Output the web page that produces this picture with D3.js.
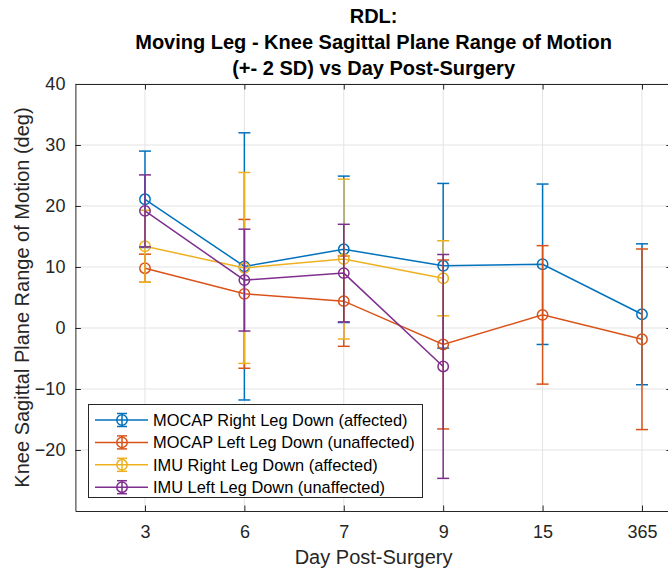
<!DOCTYPE html>
<html>
<head>
<meta charset="utf-8">
<script src="https://cdn.jsdelivr.net/npm/d3@7"></script>
<style>
  html, body { margin: 0; padding: 0; background: #ffffff; }
  svg { display: block; font-family: "Liberation Sans", Arial, Helvetica, sans-serif; }
</style>
</head>
<body>
<svg id="chart" width="668" height="574"></svg>
<script>
// Day post-surgery categories (x axis)
const days = ["3", "6", "7", "9", "15", "365"];

// Knee sagittal range of motion (deg): means and 2 SD half-widths
const mocapRightMean = [21.1, 10.1, 12.9, 10.2, 10.45, 2.25];
const mocapRightSD2  = [7.9, 21.9, 12.0, 13.5, 13.15, 11.55];
const mocapLeftMean  = [9.8, 5.6, 4.4, -2.7, 2.15, -1.85];
const mocapLeftSD2   = [2.3, 12.2, 7.4, 13.85, 11.35, 14.8];
const imuRightMean   = [13.4, 9.85, 11.3, 8.15];
const imuRightSD2    = [5.9, 15.65, 13.1, 6.15];
const imuLeftMean    = [19.2, 7.85, 9.0, -6.3];
const imuLeftSD2     = [5.9, 8.35, 8.0, 18.35];

const yTicks = [-20, -10, 0, 10, 20, 30, 40];

const seriesNames = [
  "MOCAP Right Leg Down (affected)",
  "MOCAP Left Leg Down (unaffected)",
  "IMU Right Leg Down (affected)",
  "IMU Left Leg Down (unaffected)"
];
const seriesColors = ["#0072BD", "#D95319", "#EDB120", "#7E2F8E"];

const series = [
  { mean: mocapRightMean, sd: mocapRightSD2 },
  { mean: mocapLeftMean,  sd: mocapLeftSD2 },
  { mean: imuRightMean,   sd: imuRightSD2 },
  { mean: imuLeftMean,    sd: imuLeftSD2 }
].map((s, i) => ({
  name: seriesNames[i],
  color: seriesColors[i],
  points: s.mean.map((m, j) => ({ idx: j + 1, mean: m, sd: s.sd[j] }))
}));

const svg = d3.select("#chart");
const axisColor = "#262626";
const gridColor = "#e3e3e3";

// Plot box
const plotLeft = 75.4, plotRight = 671.8, plotTop = 84, plotBottom = 511;
const x = d3.scaleLinear().domain([0.3, 6.3]).range([plotLeft, plotRight]);
const y = d3.scaleLinear().domain([-30, 40]).range([plotBottom, plotTop]);

// Grid
const grid = svg.append("g");
grid.selectAll("line.gx").data(days).join("line").attr("class", "gx")
  .attr("x1", (d, i) => x(i + 1)).attr("x2", (d, i) => x(i + 1))
  .attr("y1", plotTop).attr("y2", plotBottom)
  .attr("stroke", gridColor).attr("stroke-width", 1);
grid.selectAll("line.gy").data(yTicks).join("line").attr("class", "gy")
  .attr("x1", plotLeft).attr("x2", plotRight)
  .attr("y1", d => y(d)).attr("y2", d => y(d))
  .attr("stroke", gridColor).attr("stroke-width", 1);

// Axes (ticks point inward, box on all sides)
const tickLen = 5.5;
const xAxisB = d3.axisBottom(x).tickValues(d3.range(1, 7)).tickFormat(d => days[d - 1])
  .tickSizeInner(-tickLen).tickSizeOuter(0).tickPadding(14);
const xAxisT = d3.axisTop(x).tickValues(d3.range(1, 7)).tickFormat("")
  .tickSizeInner(-tickLen).tickSizeOuter(0);
const yAxisL = d3.axisLeft(y).tickValues(yTicks).tickFormat(d3.format("d"))
  .tickSizeInner(-tickLen).tickSizeOuter(0).tickPadding(10);
const yAxisR = d3.axisRight(y).tickValues(yTicks).tickFormat("")
  .tickSizeInner(-tickLen).tickSizeOuter(0);

function styleAxis(g) {
  g.select(".domain").attr("stroke", axisColor).attr("stroke-width", 1);
  g.selectAll(".tick line").attr("stroke", axisColor).attr("stroke-width", 1);
  g.selectAll(".tick text").attr("fill", axisColor)
    .style("font-size", "18px").style("font-family", "'Liberation Sans', Arial, sans-serif");
}
svg.append("g").attr("transform", `translate(0,${plotBottom})`).call(xAxisB).call(styleAxis);
svg.append("g").attr("transform", `translate(0,${plotTop})`).call(xAxisT).call(styleAxis);
svg.append("g").attr("transform", `translate(${plotLeft},0)`).call(yAxisL).call(styleAxis);
svg.append("g").attr("transform", `translate(${plotRight},0)`).call(yAxisR).call(styleAxis);

// Error bar series
const capHalf = 6, markerR = 5.2, lw = 1.5;
series.forEach(s => {
  const g = svg.append("g");
  const line = d3.line().x(d => x(d.idx)).y(d => y(d.mean));
  g.append("path").datum(s.points).attr("d", line)
    .attr("fill", "none").attr("stroke", s.color).attr("stroke-width", lw);
  const eb = g.selectAll("g.eb").data(s.points).join("g").attr("class", "eb");
  eb.append("line")
    .attr("x1", d => x(d.idx)).attr("x2", d => x(d.idx))
    .attr("y1", d => y(d.mean + d.sd)).attr("y2", d => y(d.mean - d.sd))
    .attr("stroke", s.color).attr("stroke-width", lw);
  [1, -1].forEach(sign => {
    eb.append("line")
      .attr("x1", d => x(d.idx) - capHalf).attr("x2", d => x(d.idx) + capHalf)
      .attr("y1", d => y(d.mean + sign * d.sd)).attr("y2", d => y(d.mean + sign * d.sd))
      .attr("stroke", s.color).attr("stroke-width", lw);
  });
  eb.append("circle")
    .attr("cx", d => x(d.idx)).attr("cy", d => y(d.mean)).attr("r", markerR)
    .attr("fill", "none").attr("stroke", s.color).attr("stroke-width", lw);
});

// Legend
const lg = svg.append("g");
lg.append("rect").attr("x", 88.5).attr("y", 404.5).attr("width", 334).attr("height", 93)
  .attr("fill", "#ffffff").attr("stroke", axisColor).attr("stroke-width", 1);
series.forEach((s, i) => {
  const cy = 420 + i * 22.4;
  const row = lg.append("g");
  row.append("line").attr("x1", 95).attr("x2", 148).attr("y1", cy).attr("y2", cy)
    .attr("stroke", s.color).attr("stroke-width", lw);
  row.append("line").attr("x1", 122).attr("x2", 122).attr("y1", cy - 6.5).attr("y2", cy + 6.5)
    .attr("stroke", s.color).attr("stroke-width", lw);
  [-6.5, 6.5].forEach(o => row.append("line")
    .attr("x1", 117).attr("x2", 127).attr("y1", cy + o).attr("y2", cy + o)
    .attr("stroke", s.color).attr("stroke-width", lw));
  row.append("circle").attr("cx", 122).attr("cy", cy).attr("r", markerR)
    .attr("fill", "none").attr("stroke", s.color).attr("stroke-width", lw);
  row.append("text").attr("x", 153).attr("y", cy).attr("dy", "0.35em")
    .attr("fill", "#000000").style("font-size", "16.4px").text(s.name);
});

// Axis labels
svg.append("text").attr("x", (plotLeft + plotRight) / 2).attr("y", 564)
  .attr("text-anchor", "middle").attr("fill", axisColor).style("font-size", "20px")
  .text("Day Post-Surgery");
svg.append("text")
  .attr("transform", `translate(29,${(plotTop + plotBottom) / 2}) rotate(-90)`)
  .attr("text-anchor", "middle").attr("fill", axisColor).style("font-size", "20px")
  .text("Knee Sagittal Plane Range of Motion (deg)");

// Title
const titleLines = ["RDL:", "Moving Leg - Knee Sagittal Plane Range of Motion", "(+- 2 SD) vs Day Post-Surgery"];
svg.append("g").selectAll("text").data(titleLines).join("text")
  .attr("x", (plotLeft + plotRight) / 2).attr("y", (d, i) => 23 + i * 26)
  .attr("text-anchor", "middle").attr("fill", "#000000")
  .style("font-size", "20px").style("font-weight", "bold")
  .text(d => d);
</script>
</body>
</html>
